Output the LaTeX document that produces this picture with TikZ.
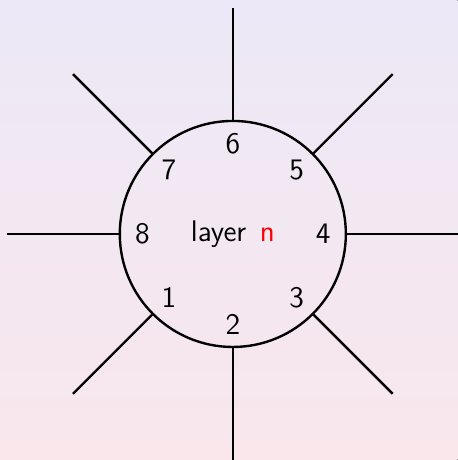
\documentclass[tikz,border=0pt]{standalone}
\usepackage{xcolor}
\definecolor{bgtop}{RGB}{236,232,247}
\definecolor{bgbottom}{RGB}{249,231,236}
\begin{document}
\begin{tikzpicture}[
			every node/.style={font=\fontsize{15}{18}\sffamily},
			layer/.style={draw, circle, line width=1.2pt, minimum size=4cm, inner sep=0pt},
			spoke/.style={line width=1.2pt}
			]
			% Background
			\fill[top color=bgtop, bottom color=bgbottom] (-4.12,-4.0) rectangle (3.98,4.14);
			\useasboundingbox (-4.12,-4.0) rectangle (3.98,4.14);
			
			% Layer
			\node[layer] (layer) at (0,0) {layer\hspace{0.45em}\textcolor{red}{n}};
			
			% Ports and connections
			\foreach \num/\ang in {4/0, 5/45, 6/90, 7/135, 8/180, 1/225, 2/270, 3/315} {
				\node (p\num) at (\ang:1.6) {\num};
				\coordinate (e\num) at (\ang:4);
				\draw[spoke] (layer.\ang) -- (e\num);
			}
		\end{tikzpicture}
\end{document}
